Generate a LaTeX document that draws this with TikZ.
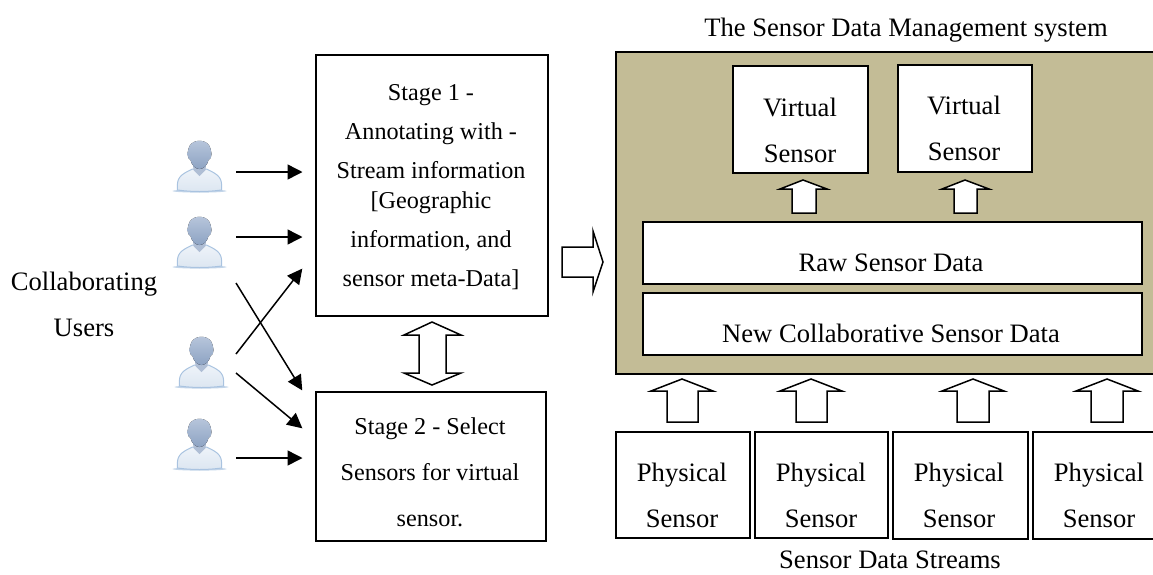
\documentclass[tikz,border=0pt]{standalone}
\usepackage{fontspec}
\setmainfont{Liberation Serif}
\usetikzlibrary{arrows.meta}
\definecolor{panel}{HTML}{C3BC96}
\definecolor{bodyc}{HTML}{DCE6F1}
\definecolor{bodyl}{HTML}{EEF3F9}
\definecolor{bodye}{HTML}{A9C3E0}
\definecolor{headc}{HTML}{9DB2CE}
\definecolor{headl}{HTML}{B9C7DC}
\definecolor{headd}{HTML}{8DA3C3}
\tikzset{
  x=1pt,y=-1pt,
  boxn/.style={draw=black,line width=1.5pt,fill=white,inner sep=0pt,anchor=north west},
  lbl/.style={inner sep=0pt,align=center,font=\fontsize{26.6}{46}\selectfont},
  conn/.style={line width=1.5pt,-{Triangle[length=15pt,width=15pt]},shorten >=-0.5pt},
  block/.style={draw=black,line width=1.5pt,fill=white,line join=miter},
  user/.pic={
    \fill[bodye!70] (0,51) ellipse (27 and 1.6);
    \draw[draw=bodye,line width=1pt,top color=bodyl,bottom color=bodyc] (-22,50) .. controls (-23,38) and (-20,35) .. (-7,29) -- (7,29) .. controls (20,35) and (23,38) .. (22,50) .. controls (8,52) and (-8,52) .. (-22,50) -- cycle;
    \fill[headd!70] (-7,20) -- (7,20) -- (6,30) -- (0,36) -- (-6,30) -- cycle;
    \fill[top color=headl,bottom color=headd] (-10,6) .. controls (-6,-1) and (6,-1) .. (10,6) .. controls (11,9) and (12,11) .. (12,14) .. controls (12,17) and (11,19) .. (9,20) .. controls (8,25) and (4,29) .. (0,29) .. controls (-4,29) and (-8,25) .. (-9,20) .. controls (-11,19) and (-12,17) .. (-12,14) .. controls (-12,11) and (-11,9) .. (-10,6) -- cycle;
  }
}
\begin{document}
\begin{tikzpicture}
\useasboundingbox (0,0) rectangle (1153,574);
\fill[white] (0,0) rectangle (1153,574);
% users
\pic (p1) at (199.5,140) {user};
\pic (p2) at (199.5,216) {user};
\pic (p3) at (201.5,336) {user};
\pic (p4) at (199.5,418) {user};
% panel
\node[boxn,fill=panel,minimum width=540,minimum height=322] (sys) at (615,51) {};
% boxes
\node[boxn,minimum width=232,minimum height=261] (s1) at (315,54) {};
\node[lbl,font=\fontsize{24.2}{39}\selectfont] at (431,187) {Stage 1 -\\Annotating with -\\Stream information\\[-9pt][Geographic\\information, and\\sensor meta-Data]};
\node[boxn,minimum width=230,minimum height=149] (s2) at (315,391) {};
\node[lbl,font=\fontsize{24.2}{46}\selectfont] at (430,472) {Stage 2 - Select\\Sensors for virtual\\sensor.};
\node[boxn,minimum width=135,minimum height=107] (v1) at (732,65) {};
\node[lbl] at (800,130) {Virtual\\Sensor};
\node[boxn,minimum width=134,minimum height=107] (v2) at (897,64) {};
\node[lbl] at (964,128) {Virtual\\Sensor};
\node[boxn,minimum width=499,minimum height=62] (raw) at (642,221) {};
\node[lbl,anchor=base] at (891,271) {Raw Sensor Data};
\node[boxn,minimum width=499,minimum height=62] (new) at (642,292) {};
\node[lbl,anchor=base] at (891,342) {New Collaborative Sensor Data};
\node[boxn,minimum width=134,minimum height=106] (a) at (615,431) {};
\node[boxn,minimum width=133,minimum height=106] (b) at (754,431) {};
\node[boxn,minimum width=135,minimum height=107] (c) at (892,431) {};
\node[boxn,minimum width=124,minimum height=107] (d) at (1032,431) {};
\node[lbl] at (682,495) {Physical\\Sensor};
\node[lbl] at (821,495) {Physical\\Sensor};
\node[lbl] at (959,495) {Physical\\Sensor};
\node[lbl] at (1099,495) {Physical\\Sensor};
% labels
\node[lbl,anchor=base] (title) at (906,36) {The Sensor Data Management system};
\node[lbl,anchor=base] (streams) at (890,568) {Sensor Data Streams};
\node[lbl] (collab) at (84,304) {Collaborating\\Users};
% thin arrows
\foreach \n/\x/\y in {a1/236/172,b1/302/172,a2/236/237,b2/302/237,a3/236/283,b3/302/390,a4/236/354,b4/302/269,a5/236/373,b5/302/428,a6/236/458,b6/302/458}
  \coordinate (\n) at (\x,\y);
\foreach \i in {1,...,6} \draw[conn] (a\i) -- (b\i);
% block arrows
\draw[block] (562,247) -- (593,247) -- (593,231) -- (603,262) -- (593,292) -- (593,277) -- (562,277) -- cycle;
\draw[block] (432,322) -- (461,335) -- (446,335) -- (446,373) -- (461,373) -- (432,385) -- (404,373) -- (419,373) -- (419,335) -- (404,335) -- cycle;
\draw[block] (792,213) -- (816,213) -- (816,189) -- (827,189) -- (803,180) -- (780,189) -- (792,189) -- cycle;
\draw[block] (954,213) -- (977,213) -- (977,189) -- (989,189) -- (965,180) -- (942,189) -- (954,189) -- cycle;
\draw[block] (667,422) -- (698,422) -- (698,391) -- (713,391) -- (682,379) -- (651,391) -- (667,391) -- cycle;
\draw[block] (796,422) -- (827,422) -- (827,391) -- (842,391) -- (811,379) -- (780,391) -- (796,391) -- cycle;
\draw[block] (957,422) -- (989,422) -- (989,391) -- (1004,391) -- (973,379) -- (942,391) -- (957,391) -- cycle;
\draw[block] (1091,422) -- (1123,422) -- (1123,391) -- (1138,391) -- (1107,379) -- (1076,391) -- (1091,391) -- cycle;
\end{tikzpicture}
\end{document}
